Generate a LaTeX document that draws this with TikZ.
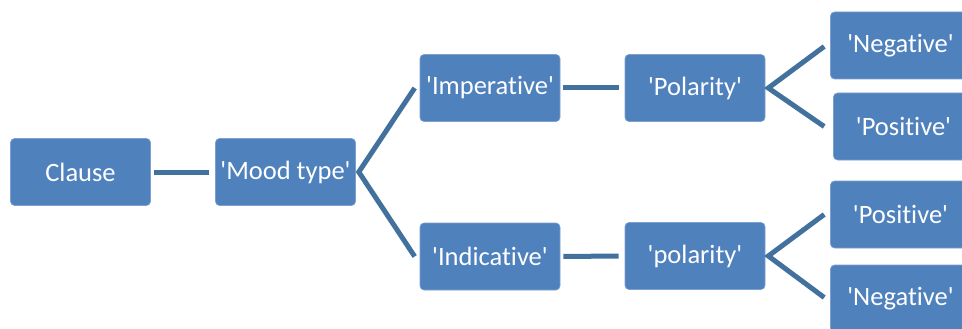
\documentclass[tikz,border=0pt]{standalone}
\usepackage{fontspec}
\setmainfont{Carlito}[Ligatures={TeXOff,NoCommon}]
\usetikzlibrary{calc}
\definecolor{boxblue}{HTML}{4F81BD}
\definecolor{lineblue}{HTML}{41719C}
\tikzset{
  box/.style={rectangle, rounded corners=4pt, fill=boxblue, draw=boxblue!75!white, line width=0.6pt,
    minimum width=140pt, minimum height=67pt, inner sep=0pt, text=white,
    font=\fontsize{26.5}{31}\selectfont},
  conn/.style={draw=lineblue, line width=5pt, line cap=butt, line join=miter}
}
\begin{document}
\begin{tikzpicture}[x=1pt,y=-1pt]
\useasboundingbox (0,0) rectangle (962,329);
\clip (0,0) rectangle (962,329);
\node[box] (clause) at (80.5,172) {Clause};
\node[box] (mood) at (285.5,172) {'Mood type'};
\node[box] (imp) at (490,88) {'Imperative'};
\node[box] (ind) at (490,256.5) {'Indicative'};
\node[box] (pol1) at (695,88) {'Polarity'};
\node[box] (pol2) at (695,256) {'polarity'};
\node[box] (neg1) at (900.5,45.5) {'Negative'};
\node[box] (pos1) at (903.5,126.5) {'Positive'};
\node[box] (pos2) at (900.5,214.5) {'Positive'};
\node[box] (neg2) at (900.5,298.5) {'Negative'};
\draw[conn] ($(clause.east)+(3,0)$) -- ($(mood.west)+(-6,0)$);
\draw[conn] ($(imp.west)+(-5,0)$) -- ($(mood.east)+(3,0)$) -- ($(ind.west)+(-5,0)$);
\draw[conn] ($(imp.east)+(3,0)$) -- ($(pol1.west)+(-6,0)$);
\draw[conn] ($(ind.east)+(3,0)$) -- ($(pol2.west)+(-6,0)$);
\draw[conn] ($(neg1.west)+(-6,1)$) -- ($(pol1.east)+(3,0)$) -- ($(pos1.west)+(-9,0)$);
\draw[conn] ($(pos2.west)+(-6,0)$) -- ($(pol2.east)+(3,0)$) -- ($(neg2.west)+(-6,-1)$);
\end{tikzpicture}
\end{document}
